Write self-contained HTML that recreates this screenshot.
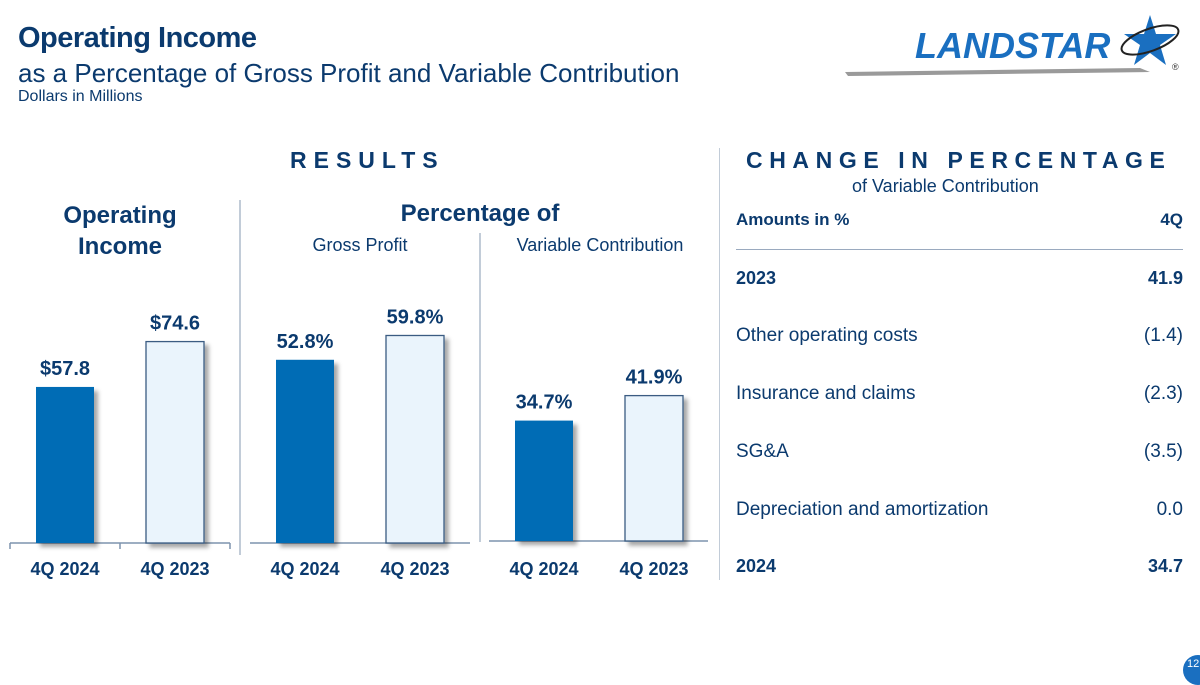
<!DOCTYPE html>
<html><head><meta charset="utf-8"><style>
body{margin:0;width:1200px;height:675px;background:#fff;font-family:"Liberation Sans",sans-serif;color:#0b3a6e;position:relative;overflow:hidden}
.a{position:absolute;white-space:nowrap}
.b{font-weight:bold}
</style></head><body>
<div class="a b" style="left:18px;top:22px;font-size:29px;letter-spacing:-0.5px">Operating Income</div>
<div class="a" style="left:18px;top:58px;font-size:26px">as a Percentage of Gross Profit and Variable Contribution</div>
<div class="a" style="left:18px;top:88px;font-size:16px">Dollars in Millions</div>
<svg class="a" style="left:840px;top:10px" width="360" height="80">
<polygon points="5,62 300,58 310,62 8,66" fill="#9a9a9a"/>
<text x="75" y="48" font-size="36" font-weight="bold" font-style="italic" fill="#1a6fc0" font-family="Liberation Sans">LANDSTAR</text>
<polygon points="310,5 316,24 336,24 320,35 326,55 310,43 294,55 300,35 284,24 304,24" fill="#1a6fc0"/>
<ellipse cx="310" cy="30" rx="30" ry="11" fill="none" stroke="#222" stroke-width="2" transform="rotate(-20 310 30)"/>
<text x="332" y="60" font-size="9" fill="#333">®</text>
</svg>
<div class="a b" style="left:290px;top:147px;font-size:23px;letter-spacing:7px">RESULTS</div>
<div class="a b" style="left:746px;top:147px;font-size:23px;letter-spacing:6.6px">CHANGE IN PERCENTAGE</div>
<div class="a" style="left:852px;top:176px;font-size:18px">of Variable Contribution</div>
<div class="a b" style="left:20px;top:200px;width:200px;text-align:center;font-size:24px;line-height:31px">Operating<br>Income</div>
<div class="a b" style="left:330px;top:200px;width:300px;text-align:center;font-size:24px">Percentage of</div>
<div class="a" style="left:260px;top:235px;width:200px;text-align:center;font-size:18px">Gross Profit</div>
<div class="a" style="left:490px;top:235px;width:220px;text-align:center;font-size:18px">Variable Contribution</div>
<svg class="a" id="chart" style="left:0;top:0" width="720" height="600"></svg>
<div id="tbl"></div>
<div class="a" style="left:1183px;top:655px;width:30px;height:30px;border-radius:50%;background:#1a6fc0;color:#fff;font-size:11px;padding:3px 0 0 4px;box-sizing:border-box">12</div>
<script>
const categories=["4Q 2024","4Q 2023"];
const incomeValues=[57.8,74.6];
const grossProfitPct=[52.8,59.8];
const varContribPct=[34.7,41.9];
const tableLabels=["2023","Other operating costs","Insurance and claims","SG&A","Depreciation and amortization","2024"];
const tableValues=["41.9","(1.4)","(2.3)","(3.5)","0.0","34.7"];
const ns="http://www.w3.org/2000/svg";
const svg=document.getElementById('chart');
function mk(t,a,p){const e=document.createElementNS(ns,t);for(const k in a)e.setAttribute(k,a[k]);(p||svg).appendChild(e);return e;}
function yIncome(v){return 543-v*2.70;}
function yPct(v){return 543-v*3.47;}
function yPct3(v){return 541-v*3.47;}
const defs=mk('defs',{});
const f=mk('filter',{id:'sh',x:'-20%',y:'-20%',width:'150%',height:'150%'},defs);
mk('feDropShadow',{dx:'4',dy:'4',stdDeviation:'2','flood-color':'#000','flood-opacity':'0.35'},f);
function chart(name,vals,yf,x0,base,fmt){
  vals.forEach((v,i)=>{
    const x=x0+i*110, y=yf(v);
    const r=mk('rect',{x:x,y:y,width:58,height:base-y,fill:i==0?'#006cb5':'#eaf4fc',stroke:i==0?'none':'#3b5b82','stroke-width':1.3,filter:'url(#sh)'});
    
    
    const t=mk('text',{x:x+29,y:y-12,'text-anchor':'middle','font-size':20,'font-weight':'bold',fill:'#0b3a6e'});
    t.textContent=fmt(v);
    
    
    const c=mk('text',{x:x+29,y:575,'text-anchor':'middle','font-size':18,'font-weight':'bold',fill:'#0b3a6e'});
    c.textContent=categories[i];
    
    
  });
}
mk('line',{x1:10,y1:543,x2:230,y2:543,stroke:'#7d93ad','stroke-width':1.5});
[10,120,230].forEach(x=>mk('line',{x1:x,y1:543,x2:x,y2:549,stroke:'#7d93ad','stroke-width':1.5}));
mk('line',{x1:250,y1:543,x2:470,y2:543,stroke:'#7d93ad','stroke-width':1.5});
mk('line',{x1:489,y1:541,x2:708,y2:541,stroke:'#7d93ad','stroke-width':1.5});
mk('line',{x1:240,y1:200,x2:240,y2:555,stroke:'#9aaabf','stroke-width':1.2});
mk('line',{x1:480,y1:233,x2:480,y2:542,stroke:'#9aaabf','stroke-width':1.2});
mk('line',{x1:720,y1:148,x2:720,y2:580,stroke:'#9aaabf','stroke-width':1.2});
chart('income',incomeValues,yIncome,36,543,v=>'$'+v.toFixed(1));
chart('gross-profit',grossProfitPct,yPct,276,543,v=>v.toFixed(1)+'%');
chart('var-contrib',varContribPct,yPct3,515,541,v=>v.toFixed(1)+'%');
const tbl=document.getElementById('tbl');
function div(txt,st,name){const d=document.createElement('div');d.className='a';d.style.cssText=st;d.textContent=txt;tbl.appendChild(d);return d;}
div('Amounts in %','left:736px;top:210px;font-size:17px;font-weight:bold','table-header-label');
div('4Q','left:1130px;top:210px;width:53px;text-align:right;font-size:17px;font-weight:bold','table-header-period');
div('','left:736px;top:249px;width:447px;height:1px;background:#9aaabf','table-header-rule');
const rowY=[268,325,383,441,499,556];
tableLabels.forEach((l,i)=>{
  const bold=(i==0||i==5);
  div(l,'left:736px;top:'+rowY[i]+'px;font-size:'+(bold?18:19)+'px;'+(bold?'font-weight:bold;':''),'table-row-label-'+i);
  div(tableValues[i],'left:1080px;top:'+rowY[i]+'px;width:103px;text-align:right;font-size:'+(bold?18:19)+'px;'+(bold?'font-weight:bold;':''),'table-row-value-'+i);
});
</script>
</body></html>
